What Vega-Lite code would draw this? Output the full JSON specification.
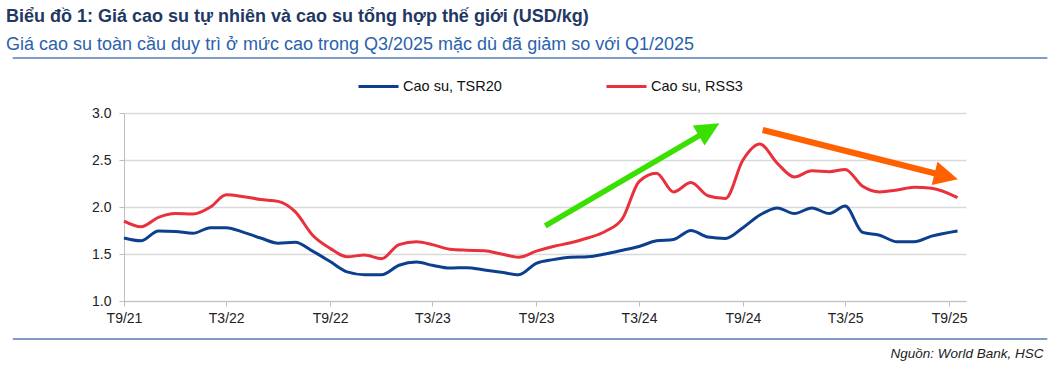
{
  "$schema": "https://vega.github.io/schema/vega-lite/v6.json",
  "width": 842,
  "height": 188,
  "autosize": {"type": "none"},
  "padding": {"left": 124, "top": 113, "right": 96, "bottom": 81},
  "background": "white",
  "config": {"view": {"stroke": null}, "font": "Liberation Sans"},
  "title": {
    "text": "Biểu đồ 1: Giá cao su tự nhiên và cao su tổng hợp thế giới (USD/kg)",
    "subtitle": "Giá cao su toàn cầu duy trì ở mức cao trong Q3/2025 mặc dù đã giảm so với Q1/2025",
    "anchor": "start",
    "frame": "group",
    "dx": -118,
    "offset": 3,
    "font": "Liberation Sans",
    "fontSize": 18,
    "fontWeight": "bold",
    "color": "#1f3864",
    "subtitleFont": "Liberation Sans",
    "subtitleFontSize": 18,
    "subtitleColor": "#2a62ad",
    "subtitlePadding": 10
  },
  "datasets": {
    "prices": [
      {"date": "2021-09-01", "series": "Cao su, TSR20", "value": 1.67},
      {"date": "2021-10-01", "series": "Cao su, TSR20", "value": 1.64},
      {"date": "2021-11-01", "series": "Cao su, TSR20", "value": 1.745},
      {"date": "2021-12-01", "series": "Cao su, TSR20", "value": 1.74},
      {"date": "2022-01-01", "series": "Cao su, TSR20", "value": 1.72},
      {"date": "2022-02-01", "series": "Cao su, TSR20", "value": 1.78},
      {"date": "2022-03-01", "series": "Cao su, TSR20", "value": 1.78},
      {"date": "2022-04-01", "series": "Cao su, TSR20", "value": 1.73},
      {"date": "2022-05-01", "series": "Cao su, TSR20", "value": 1.67},
      {"date": "2022-06-01", "series": "Cao su, TSR20", "value": 1.615},
      {"date": "2022-07-01", "series": "Cao su, TSR20", "value": 1.625},
      {"date": "2022-08-01", "series": "Cao su, TSR20", "value": 1.53},
      {"date": "2022-09-01", "series": "Cao su, TSR20", "value": 1.42},
      {"date": "2022-10-01", "series": "Cao su, TSR20", "value": 1.31},
      {"date": "2022-11-01", "series": "Cao su, TSR20", "value": 1.28},
      {"date": "2022-12-01", "series": "Cao su, TSR20", "value": 1.28},
      {"date": "2023-01-01", "series": "Cao su, TSR20", "value": 1.38},
      {"date": "2023-02-01", "series": "Cao su, TSR20", "value": 1.415},
      {"date": "2023-03-01", "series": "Cao su, TSR20", "value": 1.38},
      {"date": "2023-04-01", "series": "Cao su, TSR20", "value": 1.35},
      {"date": "2023-05-01", "series": "Cao su, TSR20", "value": 1.355},
      {"date": "2023-06-01", "series": "Cao su, TSR20", "value": 1.33},
      {"date": "2023-07-01", "series": "Cao su, TSR20", "value": 1.305},
      {"date": "2023-08-01", "series": "Cao su, TSR20", "value": 1.28},
      {"date": "2023-09-01", "series": "Cao su, TSR20", "value": 1.40},
      {"date": "2023-10-01", "series": "Cao su, TSR20", "value": 1.44},
      {"date": "2023-11-01", "series": "Cao su, TSR20", "value": 1.465},
      {"date": "2023-12-01", "series": "Cao su, TSR20", "value": 1.47},
      {"date": "2024-01-01", "series": "Cao su, TSR20", "value": 1.50},
      {"date": "2024-02-01", "series": "Cao su, TSR20", "value": 1.54},
      {"date": "2024-03-01", "series": "Cao su, TSR20", "value": 1.58},
      {"date": "2024-04-01", "series": "Cao su, TSR20", "value": 1.64},
      {"date": "2024-05-01", "series": "Cao su, TSR20", "value": 1.655},
      {"date": "2024-06-01", "series": "Cao su, TSR20", "value": 1.75},
      {"date": "2024-07-01", "series": "Cao su, TSR20", "value": 1.68},
      {"date": "2024-08-01", "series": "Cao su, TSR20", "value": 1.665},
      {"date": "2024-09-01", "series": "Cao su, TSR20", "value": 1.78},
      {"date": "2024-10-01", "series": "Cao su, TSR20", "value": 1.915},
      {"date": "2024-11-01", "series": "Cao su, TSR20", "value": 1.99},
      {"date": "2024-12-01", "series": "Cao su, TSR20", "value": 1.93},
      {"date": "2025-01-01", "series": "Cao su, TSR20", "value": 1.99},
      {"date": "2025-02-01", "series": "Cao su, TSR20", "value": 1.93},
      {"date": "2025-03-01", "series": "Cao su, TSR20", "value": 2.01},
      {"date": "2025-04-01", "series": "Cao su, TSR20", "value": 1.73},
      {"date": "2025-05-01", "series": "Cao su, TSR20", "value": 1.70},
      {"date": "2025-06-01", "series": "Cao su, TSR20", "value": 1.63},
      {"date": "2025-07-01", "series": "Cao su, TSR20", "value": 1.63},
      {"date": "2025-08-01", "series": "Cao su, TSR20", "value": 1.69},
      {"date": "2025-09-16", "series": "Cao su, TSR20", "value": 1.745},
      {"date": "2021-09-01", "series": "Cao su, RSS3", "value": 1.85},
      {"date": "2021-10-01", "series": "Cao su, RSS3", "value": 1.79},
      {"date": "2021-11-01", "series": "Cao su, RSS3", "value": 1.89},
      {"date": "2021-12-01", "series": "Cao su, RSS3", "value": 1.93},
      {"date": "2022-01-01", "series": "Cao su, RSS3", "value": 1.925},
      {"date": "2022-02-01", "series": "Cao su, RSS3", "value": 2.00},
      {"date": "2022-03-01", "series": "Cao su, RSS3", "value": 2.13},
      {"date": "2022-04-01", "series": "Cao su, RSS3", "value": 2.11},
      {"date": "2022-05-01", "series": "Cao su, RSS3", "value": 2.08},
      {"date": "2022-06-01", "series": "Cao su, RSS3", "value": 2.06},
      {"date": "2022-07-01", "series": "Cao su, RSS3", "value": 1.95},
      {"date": "2022-08-01", "series": "Cao su, RSS3", "value": 1.70},
      {"date": "2022-09-01", "series": "Cao su, RSS3", "value": 1.56},
      {"date": "2022-10-01", "series": "Cao su, RSS3", "value": 1.47},
      {"date": "2022-11-01", "series": "Cao su, RSS3", "value": 1.49},
      {"date": "2022-12-01", "series": "Cao su, RSS3", "value": 1.45},
      {"date": "2023-01-01", "series": "Cao su, RSS3", "value": 1.60},
      {"date": "2023-02-01", "series": "Cao su, RSS3", "value": 1.63},
      {"date": "2023-03-01", "series": "Cao su, RSS3", "value": 1.60},
      {"date": "2023-04-01", "series": "Cao su, RSS3", "value": 1.55},
      {"date": "2023-05-01", "series": "Cao su, RSS3", "value": 1.54},
      {"date": "2023-06-01", "series": "Cao su, RSS3", "value": 1.535},
      {"date": "2023-07-01", "series": "Cao su, RSS3", "value": 1.50},
      {"date": "2023-08-01", "series": "Cao su, RSS3", "value": 1.465},
      {"date": "2023-09-01", "series": "Cao su, RSS3", "value": 1.53},
      {"date": "2023-10-01", "series": "Cao su, RSS3", "value": 1.58},
      {"date": "2023-11-01", "series": "Cao su, RSS3", "value": 1.62},
      {"date": "2023-12-01", "series": "Cao su, RSS3", "value": 1.67},
      {"date": "2024-01-01", "series": "Cao su, RSS3", "value": 1.74},
      {"date": "2024-02-01", "series": "Cao su, RSS3", "value": 1.88},
      {"date": "2024-03-01", "series": "Cao su, RSS3", "value": 2.27},
      {"date": "2024-04-01", "series": "Cao su, RSS3", "value": 2.36},
      {"date": "2024-05-01", "series": "Cao su, RSS3", "value": 2.16},
      {"date": "2024-06-01", "series": "Cao su, RSS3", "value": 2.26},
      {"date": "2024-07-01", "series": "Cao su, RSS3", "value": 2.12},
      {"date": "2024-08-01", "series": "Cao su, RSS3", "value": 2.09},
      {"date": "2024-09-01", "series": "Cao su, RSS3", "value": 2.50},
      {"date": "2024-10-01", "series": "Cao su, RSS3", "value": 2.67},
      {"date": "2024-11-01", "series": "Cao su, RSS3", "value": 2.465},
      {"date": "2024-12-01", "series": "Cao su, RSS3", "value": 2.32},
      {"date": "2025-01-01", "series": "Cao su, RSS3", "value": 2.385},
      {"date": "2025-02-01", "series": "Cao su, RSS3", "value": 2.375},
      {"date": "2025-03-01", "series": "Cao su, RSS3", "value": 2.40},
      {"date": "2025-04-01", "series": "Cao su, RSS3", "value": 2.22},
      {"date": "2025-05-01", "series": "Cao su, RSS3", "value": 2.16},
      {"date": "2025-06-01", "series": "Cao su, RSS3", "value": 2.18},
      {"date": "2025-07-01", "series": "Cao su, RSS3", "value": 2.21},
      {"date": "2025-08-01", "series": "Cao su, RSS3", "value": 2.20},
      {"date": "2025-09-16", "series": "Cao su, RSS3", "value": 2.10}
    ],
    "blank": [{}]
  },
  "layer": [
    {
      "data": {"name": "blank"},
      "mark": {"type": "rule", "strokeWidth": 2, "color": "#7f9dc7"},
      "encoding": {
        "x": {"datum": {"year": 2021, "month": 2, "date": 16, "utc": true}, "type": "temporal"},
        "x2": {"datum": {"year": 2026, "month": 2, "date": 22, "utc": true}},
        "y": {"datum": 3.585, "type": "quantitative"}
      }
    },
    {
      "data": {"name": "blank"},
      "mark": {"type": "rule", "strokeWidth": 2, "color": "#7f9dc7"},
      "encoding": {
        "x": {"datum": {"year": 2021, "month": 2, "date": 16, "utc": true}, "type": "temporal"},
        "x2": {"datum": {"year": 2026, "month": 2, "date": 22, "utc": true}},
        "y": {"datum": 0.596, "type": "quantitative"}
      }
    },
    {
      "data": {"name": "prices"},
      "mark": {"type": "line", "strokeWidth": 3, "interpolate": "monotone"},
      "encoding": {
        "x": {
          "field": "date",
          "type": "temporal",
          "scale": {
            "type": "utc",
            "domain": [
              {"year": 2021, "month": 9, "date": 1, "utc": true},
              {"year": 2025, "month": 10, "date": 1, "utc": true}
            ]
          },
          "axis": {
            "values": [
              {"year": 2021, "month": 9, "date": 1, "utc": true},
              {"year": 2022, "month": 3, "date": 1, "utc": true},
              {"year": 2022, "month": 9, "date": 1, "utc": true},
              {"year": 2023, "month": 3, "date": 1, "utc": true},
              {"year": 2023, "month": 9, "date": 1, "utc": true},
              {"year": 2024, "month": 3, "date": 1, "utc": true},
              {"year": 2024, "month": 9, "date": 1, "utc": true},
              {"year": 2025, "month": 3, "date": 1, "utc": true},
              {"year": 2025, "month": 9, "date": 1, "utc": true}
            ],
            "labelExpr": "'T' + utcFormat(datum.value, '%-m/%y')",
            "labelFont": "Liberation Sans",
            "labelFontSize": 14,
            "labelColor": "#222222",
            "labelPadding": 5,
            "labelFlush": false,
            "labelOverlap": false,
            "tickSize": 5,
            "tickColor": "#bfbfbf",
            "domainColor": "#bfbfbf",
            "grid": false,
            "title": "Nguồn: World Bank, HSC",
            "titleFont": "Liberation Sans",
            "titleFontSize": 13.5,
            "titleFontStyle": "italic",
            "titleFontWeight": "normal",
            "titleColor": "#222222",
            "titleAlign": "right",
            "titleBaseline": "alphabetic",
            "titleX": 919,
            "titleY": 56
          }
        },
        "y": {
          "field": "value",
          "type": "quantitative",
          "scale": {"domain": [1, 3], "nice": false, "zero": false},
          "axis": {
            "values": [1, 1.5, 2, 2.5, 3],
            "format": ".1f",
            "title": null,
            "labelFont": "Liberation Sans",
            "labelFontSize": 14,
            "labelColor": "#222222",
            "labelPadding": 8,
            "tickSize": 5,
            "tickColor": "#bfbfbf",
            "domainColor": "#bfbfbf",
            "grid": true,
            "gridColor": "#d9d9d9",
            "gridWidth": 1.5
          }
        },
        "color": {
          "field": "series",
          "type": "nominal",
          "scale": {"domain": ["Cao su, TSR20", "Cao su, RSS3"], "range": ["#0d3f8f", "#e8313c"]},
          "legend": {
            "title": null,
            "orient": "none",
            "legendX": 233,
            "legendY": -48,
            "direction": "horizontal",
            "symbolType": "stroke",
            "symbolStrokeWidth": 3,
            "symbolSize": 1600,
            "labelFont": "Liberation Sans",
            "labelFontSize": 14.5,
            "labelColor": "#111111",
            "labelOffset": 3,
            "columnPadding": 97
          }
        }
      }
    },
    {
      "data": {"name": "blank"},
      "mark": {"type": "rule", "strokeWidth": 5.5, "color": "#39e000"},
      "encoding": {
        "x": {"datum": {"year": 2023, "month": 9, "date": 17, "utc": true}, "type": "temporal"},
        "x2": {"datum": {"year": 2024, "month": 6, "date": 27, "utc": true}},
        "y": {"datum": 1.80, "type": "quantitative"},
        "y2": {"datum": 2.80}
      }
    },
    {
      "data": {"name": "blank"},
      "mark": {"type": "point", "shape": "M-1,-0.97L1,0L-1,0.97Z", "filled": true, "color": "#39e000", "opacity": 1, "size": 576, "angle": -30.4, "strokeWidth": 0},
      "encoding": {
        "x": {"datum": {"year": 2024, "month": 7, "date": 3, "utc": true}, "type": "temporal"},
        "y": {"datum": 2.826, "type": "quantitative"}
      }
    },
    {
      "data": {"name": "blank"},
      "mark": {"type": "rule", "strokeWidth": 6, "color": "#ff6000"},
      "encoding": {
        "x": {"datum": {"year": 2024, "month": 10, "date": 6, "utc": true}, "type": "temporal"},
        "x2": {"datum": {"year": 2025, "month": 8, "date": 15, "utc": true}},
        "y": {"datum": 2.819, "type": "quantitative"},
        "y2": {"datum": 2.346}
      }
    },
    {
      "data": {"name": "blank"},
      "mark": {"type": "point", "shape": "M-1,-1L1,0L-1,1Z", "filled": true, "color": "#ff6000", "opacity": 1, "size": 576, "angle": 14.1, "strokeWidth": 0},
      "encoding": {
        "x": {"datum": {"year": 2025, "month": 8, "date": 27, "utc": true}, "type": "temporal"},
        "y": {"datum": 2.326, "type": "quantitative"}
      }
    }
  ]
}
